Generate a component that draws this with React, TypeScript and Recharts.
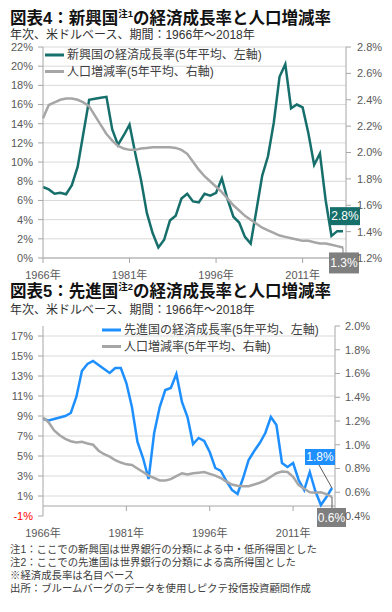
import React from 'react';
import { LineChart, Line, XAxis, YAxis, CartesianGrid, Legend, ReferenceLine } from 'recharts';

// ---- categories ----
const years = [
  1966, 1967, 1968, 1969, 1970, 1971, 1972, 1973, 1974, 1975,
  1976, 1977, 1978, 1979, 1980, 1981, 1982, 1983, 1984, 1985,
  1986, 1987, 1988, 1989, 1990, 1991, 1992, 1993, 1994, 1995,
  1996, 1997, 1998, 1999, 2000, 2001, 2002, 2003, 2004, 2005,
  2006, 2007, 2008, 2009, 2010, 2011, 2012, 2013, 2014, 2015,
  2016, 2017, 2018,
];

// ---- 図表4: emerging economies ----
const emGrowth = [
  7.4, 7.15, 6.7, 6.8, 6.65, 7.6, 9.5, 13.0, 16.5, 16.6,
  16.7, 16.8, 13.4, 11.8, 12.8, 13.9, 10.9, 8.1, 4.7, 2.6,
  1.1, 1.9, 3.9, 4.4, 6.2, 6.7, 5.9, 5.8, 6.7, 6.5,
  6.8, 8.3, 6.1, 4.3, 3.7, 2.2, 1.5, 5.0, 8.6, 10.6,
  14.1, 18.9, 20.2, 15.6, 16.0, 15.7, 13.0, 9.7, 10.9, 6.0,
  2.3, 2.8, 2.8,
];
const emPop = [
  2.26, 2.36, 2.38, 2.40, 2.41, 2.41, 2.40, 2.38, 2.35, 2.28,
  2.21, 2.14, 2.09, 2.05, 2.03, 2.02, 2.02, 2.03, 2.035, 2.04,
  2.04, 2.04, 2.04, 2.035, 2.02, 1.99, 1.93, 1.87, 1.82, 1.78,
  1.74, 1.70, 1.65, 1.60, 1.56, 1.52, 1.49, 1.46, 1.43, 1.41,
  1.39, 1.37, 1.36, 1.35, 1.34, 1.33, 1.33, 1.32, 1.31, 1.31,
  1.30, 1.29, 1.28,
];

// ---- 図表5: developed economies ----
const dmGrowth = [
  8.7, 8.55, 8.7, 8.85, 9.0, 9.3, 10.9, 13.5, 14.2, 14.5,
  14.1, 13.7, 13.3, 13.8, 13.8, 12.3, 9.9, 6.4, 4.8, 2.7,
  7.3, 9.9, 11.6, 11.8, 13.2, 10.4, 8.9, 6.2, 6.8, 6.5,
  5.4, 3.8, 3.5, 2.5, 1.6, 1.2, 2.8, 4.6, 5.5, 6.3,
  7.3, 8.9, 8.1, 4.3, 3.9, 4.3, 2.6, 1.6, 3.4, 1.5,
  0.1, 0.9, 1.8,
];
const dmPop = [
  1.23, 1.19, 1.12, 1.08, 1.05, 1.03, 1.02, 1.025, 1.01, 1.00,
  0.95, 0.92, 0.90, 0.87, 0.85, 0.835, 0.83, 0.80, 0.77, 0.74,
  0.72, 0.70, 0.70, 0.71, 0.735, 0.76, 0.75, 0.76, 0.765, 0.77,
  0.755, 0.74, 0.72, 0.69, 0.665, 0.655, 0.65, 0.65, 0.665, 0.68,
  0.70, 0.73, 0.76, 0.775, 0.77, 0.73, 0.66, 0.63, 0.60, 0.595,
  0.60, 0.585, 0.56,
];

// ---- ticks & labels ----
const xTicks = [1966, 1981, 1996, 2011];
const left1Ticks = [0, 2, 4, 6, 8, 10, 12, 14, 16, 18, 20, 22];
const right1Ticks = [1.2, 1.4, 1.6, 1.8, 2.0, 2.2, 2.4, 2.6, 2.8];
const left2Ticks = [-1, 1, 3, 5, 7, 9, 11, 13, 15, 17];
const grid2Values = [1, 3, 5, 7, 9, 11, 13, 15, 17];
const right2Ticks = [0.4, 0.6, 0.8, 1.0, 1.2, 1.4, 1.6, 1.8, 2.0];

const name1Growth = '新興国の経済成長率(5年平均、左軸)';
const name1Pop = '人口増減率(5年平均、右軸)';
const name2Growth = '先進国の経済成長率(5年平均、左軸)';
const name2Pop = '人口増減率(5年平均、右軸)';
const endLabel1Growth = '2.8%';
const endLabel1Pop = '1.3%';
const endLabel2Growth = '1.8%';
const endLabel2Pop = '0.6%';
const legendOrder = ['growth', 'pop'];

const notes = [
  '注1：ここでの新興国は世界銀行の分類による中・低所得国とした',
  '注2：ここでの先進国は世界銀行の分類による高所得国とした',
  '※経済成長率は名目ベース',
  '出所：ブルームバーグのデータを使用しピクテ投信投資顧問作成',
];

const data1 = years.map((y, i) => ({ year: y, growth: emGrowth[i], pop: emPop[i] }));
const data2 = years.map((y, i) => ({ year: y, growth: dmGrowth[i], pop: dmPop[i] }));
const LAST = years.length - 1;

const FONT = '"Liberation Sans", Arial, "Noto Sans CJK JP", sans-serif';
const TEAL = '#176f6c';
const BLUE = '#1e8fff';
const GRAY = '#a6a6a6';
const GRAY_BOX = '#7f7f7f';
const GRID = '#d9d9d9';
const AXIS = '#a6a6a6';
const TICK = '#595959';

const tickStyle = { fontSize: 11, fill: TICK, fontFamily: FONT };

const boxText = (x: number, y: number, t: string) => (
  <text x={x} y={y} textAnchor="middle" dominantBaseline="central" fontSize={12} fill="#fff" fontFamily={FONT}>
    {t}
  </text>
);

const tag1Growth = (p: any) => {
  const { cx, cy, index } = p;
  if (index !== LAST || cx == null) return <g key={`a${index}`} />;
  return (
    <g key={`a${index}`}>
      <rect x={cx - 13} y={cy - 24} width={30} height={18} fill={TEAL} />
      {boxText(cx + 2, cy - 15, endLabel1Growth)}
    </g>
  );
};
const tag1Pop = (p: any) => {
  const { cx, cy, index } = p;
  if (index !== LAST || cx == null) return <g key={`b${index}`} />;
  return (
    <g key={`b${index}`}>
      <line x1={cx} y1={cy} x2={cx} y2={cy + 6} stroke="#7f7f7f" strokeWidth={1} />
      <rect x={cx - 14} y={cy + 5} width={30} height={21} fill={GRAY_BOX} />
      {boxText(cx + 1, cy + 15.5, endLabel1Pop)}
    </g>
  );
};
const tag2Growth = (p: any) => {
  const { cx, cy, index } = p;
  if (index !== LAST || cx == null) return <g key={`c${index}`} />;
  return (
    <g key={`c${index}`}>
      <line x1={cx - 13} y1={cy - 23} x2={cx} y2={cy} stroke="#595959" strokeWidth={1} />
      <rect x={cx - 27} y={cy - 39} width={30} height={16} fill={BLUE} />
      {boxText(cx - 12, cy - 31, endLabel2Growth)}
    </g>
  );
};
const tag2Pop = (p: any) => {
  const { cx, cy, index } = p;
  if (index !== LAST || cx == null) return <g key={`d${index}`} />;
  return (
    <g key={`d${index}`}>
      <line x1={cx} y1={cy} x2={cx} y2={cy + 11} stroke="#595959" strokeWidth={1} />
      <rect x={cx - 15} y={cy + 11} width={29} height={19} fill={GRAY_BOX} />
      {boxText(cx - 0.5, cy + 20.5, endLabel2Pop)}
    </g>
  );
};

const legendContent = (p: any) => {
  const items = [...(p.payload || [])].sort(
    (a: any, b: any) => legendOrder.indexOf(a.dataKey) - legendOrder.indexOf(b.dataKey),
  );
  return (
    <svg width={260} height={36} style={{ display: 'block', overflow: 'visible' }}>
      {items.map((e: any, i: number) => (
        <g key={i}>
          <line x1={2} x2={21} y1={9 + i * 16.5} y2={9 + i * 16.5} stroke={e.color} strokeWidth={3} />
          <text x={24} y={9 + i * 16.5} dominantBaseline="central" fontSize={12} fill="#404040" fontFamily={FONT}>
            {e.value}
          </text>
        </g>
      ))}
    </svg>
  );
};

const left2Tick = (p: any) => {
  const v = p.payload.value;
  return (
    <text x={p.x} y={p.y} textAnchor="end" dominantBaseline="central" fontSize={11} fill={v < 0 ? '#ff0000' : TICK} fontFamily={FONT}>
      {`${v}%`}
    </text>
  );
};

const Chart1 = () => (
  <LineChart width={392} height={290} data={data1} margin={{ top: 47, right: 0, bottom: 12, left: 0 }}>
    <CartesianGrid yAxisId="left" vertical={false} stroke={GRID} />
    <XAxis
      dataKey="year"
      ticks={xTicks}
      interval={0}
      tickFormatter={(v: any) => `${v}年`}
      tick={tickStyle}
      tickSize={5}
      tickMargin={8}
      axisLine={{ stroke: AXIS }}
      tickLine={{ stroke: AXIS }}
      padding={{ left: 0, right: 3 }}
      height={20}
    />
    <YAxis
      yAxisId="left"
      orientation="left"
      width={43}
      domain={[0, 22]}
      ticks={left1Ticks}
      interval={0}
      tickFormatter={(v: any) => `${v}%`}
      tick={tickStyle}
      tickSize={5}
      tickMargin={5}
      axisLine={{ stroke: AXIS }}
      tickLine={{ stroke: AXIS }}
    />
    <YAxis
      yAxisId="right"
      orientation="right"
      width={46}
      domain={[1.2, 2.8]}
      ticks={right1Ticks}
      interval={0}
      tickFormatter={(v: any) => `${Number(v).toFixed(1)}%`}
      tick={tickStyle}
      tickSize={5}
      tickMargin={6}
      axisLine={{ stroke: AXIS }}
      tickLine={{ stroke: AXIS }}
    />
    <Legend
      layout="vertical"
      align="center"
      verticalAlign="middle"
      content={legendContent}
      wrapperStyle={{ left: 43, top: 46, width: 260, height: 36 }}
    />
    <Line
      yAxisId="left"
      type="linear"
      dataKey="growth"
      name={name1Growth}
      stroke={TEAL}
      strokeWidth={2.5}
      dot={tag1Growth}
      activeDot={false}
      isAnimationActive={false}
    />
    <Line
      yAxisId="right"
      type="linear"
      dataKey="pop"
      name={name1Pop}
      stroke={GRAY}
      strokeWidth={2.5}
      dot={tag1Pop}
      activeDot={false}
      isAnimationActive={false}
    />
  </LineChart>
);

const Chart2 = () => (
  <LineChart width={392} height={250} data={data2} margin={{ top: 26, right: 0, bottom: 14, left: 0 }}>
    <CartesianGrid yAxisId="left" vertical={false} stroke={GRID} horizontalValues={grid2Values} />
    <XAxis
      dataKey="year"
      ticks={xTicks}
      interval={0}
      tickFormatter={(v: any) => `${v}年`}
      tick={tickStyle}
      tickSize={5}
      tickMargin={8}
      axisLine={false}
      tickLine={false}
      padding={{ left: 0, right: 3 }}
      height={20}
    />
    <YAxis
      yAxisId="left"
      orientation="left"
      width={43}
      domain={[-1, 18]}
      ticks={left2Ticks}
      interval={0}
      tick={left2Tick}
      tickSize={5}
      tickMargin={5}
      axisLine={{ stroke: AXIS }}
      tickLine={{ stroke: AXIS }}
    />
    <YAxis
      yAxisId="right"
      orientation="right"
      width={57}
      domain={[0.4, 2.0]}
      ticks={right2Ticks}
      interval={0}
      tickFormatter={(v: any) => `${Number(v).toFixed(1)}%`}
      tick={tickStyle}
      tickSize={5}
      tickMargin={5}
      axisLine={{ stroke: AXIS }}
      tickLine={{ stroke: AXIS }}
    />
    <ReferenceLine yAxisId="left" y={0} stroke={AXIS} />
    {xTicks.slice(1).map((t) => (
      <ReferenceLine
        key={t}
        yAxisId="left"
        segment={[{ x: t, y: 0 }, { x: t, y: -0.5 }]}
        stroke={AXIS}
      />
    ))}
    <Legend
      layout="vertical"
      align="center"
      verticalAlign="middle"
      content={legendContent}
      wrapperStyle={{ left: 100, top: 21, width: 260, height: 36 }}
    />
    <Line
      yAxisId="left"
      type="linear"
      dataKey="growth"
      name={name2Growth}
      stroke={BLUE}
      strokeWidth={2.5}
      dot={tag2Growth}
      activeDot={false}
      isAnimationActive={false}
    />
    <Line
      yAxisId="right"
      type="linear"
      dataKey="pop"
      name={name2Pop}
      stroke={GRAY}
      strokeWidth={2.5}
      dot={tag2Pop}
      activeDot={false}
      isAnimationActive={false}
    />
  </LineChart>
);

const Title = ({ y, head, sup, tail }: { y: number; head: string; sup: string; tail: string }) => (
  <text x={10} y={y} fontSize={16.5} fontWeight="bold" fill="#111" fontFamily={FONT}>
    {head}
    <tspan fontSize={9.5} dy={-6.5}>{sup}</tspan>
    <tspan fontSize={16.5} dy={6.5}>{tail}</tspan>
  </text>
);

export default function App() {
  return (
    <div style={{ position: 'absolute', left: 0, top: 0, width: 392, height: 612, background: '#fff', fontFamily: FONT, overflow: 'hidden' }}>
      <div style={{ position: 'absolute', left: 0, top: 0 }}>
        <Chart1 />
      </div>
      <div style={{ position: 'absolute', left: 0, top: 300 }}>
        <Chart2 />
      </div>
      <svg width={392} height={612} style={{ position: 'absolute', left: 0, top: 0, pointerEvents: 'none' }}>
        <Title y={23.7} head="図表4：新興国" sup="注1" tail="の経済成長率と人口増減率" />
        <text x={10} y={39.3} fontSize={12} fill="#333" fontFamily={FONT}>年次、米ドルベース、期間：1966年～2018年</text>
        <Title y={296.8} head="図表5：先進国" sup="注2" tail="の経済成長率と人口増減率" />
        <text x={10} y={313.6} fontSize={12} fill="#333" fontFamily={FONT}>年次、米ドルベース、期間：1966年～2018年</text>
        {notes.map((n, i) => (
          <text key={i} x={10} y={552.8 + i * 13} fontSize={10.4} fill="#404040" fontFamily={FONT}>{n}</text>
        ))}
      </svg>
    </div>
  );
}
